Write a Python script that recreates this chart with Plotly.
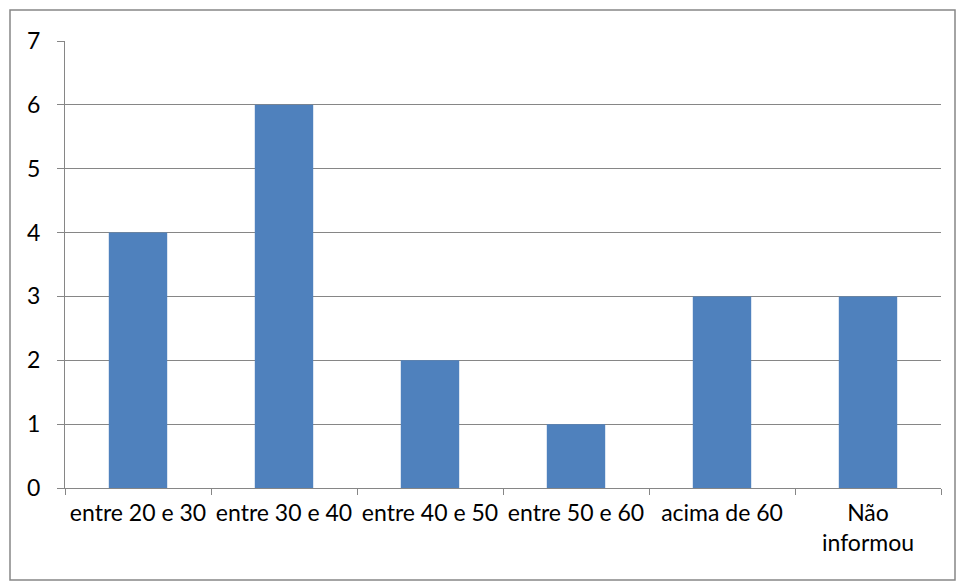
import plotly.graph_objects as go

categories = ["entre 20 e 30", "entre 30 e 40", "entre 40 e 50", "entre 50 e 60", "acima de 60", "Não<br>informou"]
values = [4, 6, 2, 1, 3, 3]
y_ticks = [0, 1, 2, 3, 4, 5, 6, 7]

W, H = 957, 581
ml, mr, mt, mb = 65, 16, 41, 93
pw, ph = W - ml - mr, H - mt - mb

fig = go.Figure(go.Bar(x=categories, y=values, marker=dict(color="#4F81BD", line=dict(width=0)), width=0.4))

fig.update_layout(
    width=W, height=H,
    margin=dict(l=ml, r=mr, t=mt, b=mb),
    paper_bgcolor="white", plot_bgcolor="white",
    font=dict(family="Lato, Carlito, sans-serif", size=23, color="black"),
    showlegend=False,
    bargap=0.6,
)
fig.update_xaxes(
    type="category", showline=True, linecolor="#868686", linewidth=1,
    ticks="outside", tickson="boundaries", ticklen=6, tickcolor="#868686",
    showgrid=False, tickangle=0, ticklabelstandoff=4,
)
fig.update_yaxes(
    range=[0, 7], tickvals=y_ticks, showline=True, linecolor="#868686", linewidth=1,
    ticks="outside", ticklen=7, tickcolor="#868686",
    showgrid=True, gridcolor="#868686", gridwidth=1, zeroline=False,
    ticklabelstandoff=12,
)
# outer chart border
fig.add_shape(type="rect", xref="paper", yref="paper",
              x0=(10 - ml) / pw, x1=(955 - ml) / pw,
              y0=-(580 - mt - ph) / ph, y1=1 + (mt - 10) / ph,
              line=dict(color="#868686", width=1.5), fillcolor="rgba(0,0,0,0)", layer="below")

fig.write_html("out.html", config={"displayModeBar": False},
               post_script="document.body.style.margin='0';document.body.style.overflow='hidden';")
